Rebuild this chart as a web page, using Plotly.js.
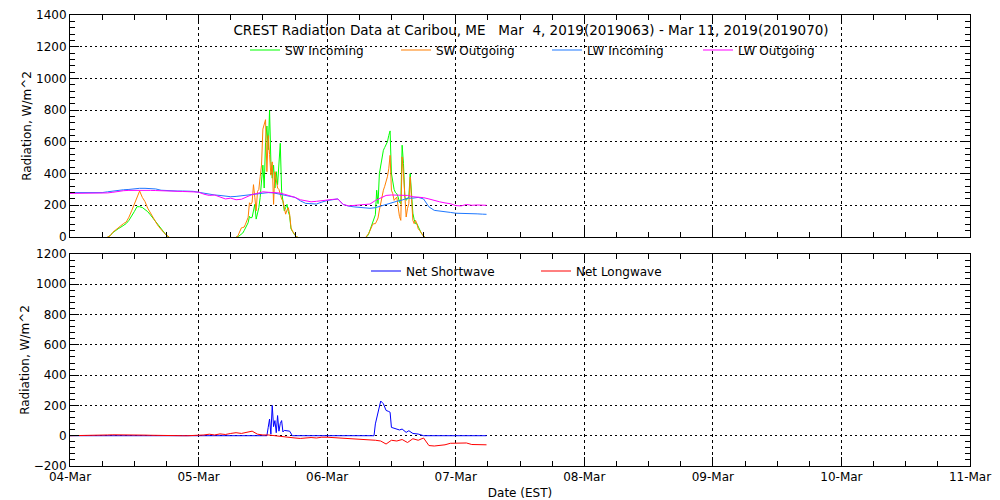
<!DOCTYPE html>
<html>
<head>
<meta charset="utf-8">
<script src="https://cdn.plot.ly/plotly-3.0.1.min.js"></script>
<style>html,body{margin:0;padding:0;background:#fff;}#chart{width:1000px;height:500px;}</style>
</head>
<body>
<div id="chart"></div>
<script>
// ---------- DATA (hours since 2019-03-04 00:00 EST) ----------
const startDate = '2019-03-04';
const endDate = '2019-03-11';

// SW values are zero at night (drawn under the axis line); night gaps are marked by null
const swHours = [
  7,7.5,8,8.5,9,9.5,10,10.5,11,11.5,12,12.5,13,13.5,14,14.5,15,15.5,16,16.5,17,17.5,18,18.5,
  24,
  31,31.25,31.5,31.75,32,32.25,32.5,32.75,33,33.25,33.5,33.75,34,34.25,34.5,34.75,35,35.25,35.5,35.75,
  36,36.25,36.5,36.75,37,37.25,37.5,37.75,38,38.25,38.5,38.75,39,39.25,39.5,39.75,40,40.25,40.5,40.75,
  41,41.25,41.5,41.75,42,42.25,42.5,
  48,
  55.25,55.5,55.75,56,56.25,56.5,56.75,57,57.25,57.5,57.75,58,58.25,58.5,58.75,59,59.25,59.5,59.75,
  60,60.25,60.5,60.75,61,61.25,61.5,61.75,62,62.25,62.5,62.75,63,63.25,63.5,63.75,64,64.25,64.5,64.75,
  65,65.25,65.5,65.75,66,66.25];
const swIncoming = [
  0,8,28,42,52,62,72,85,105,130,160,191,191,186,175,160,140,118,95,75,55,35,10,0,
  null,
  0,0,5,10,15,25,40,55,75,90,130,120,124,180,206,113,150,185,250,350,
  453,309,597,700,550,800,474,371,453,309,412,330,450,591,288,206,165,185,206,160,
  134,52,35,25,10,3,0,
  null,
  0,5,20,42,65,95,115,140,295,210,400,450,515,547,565,580,600,640,669,
  400,337,300,280,273,252,220,210,579,463,252,231,240,252,400,230,150,110,84,84,
  63,45,30,15,6,0];
const swOutgoing = [
  0,8,30,45,58,72,85,95,125,165,205,248,290,250,223,182,150,125,95,68,45,28,12,0,
  null,
  0,0,20,40,58,60,62,80,100,124,216,206,220,330,250,165,288,300,380,453,
  680,720,740,412,640,520,390,474,206,412,350,309,300,268,240,227,185,144,170,185,
  144,60,38,25,10,2,0,
  null,
  0,8,22,40,60,80,84,84,100,120,170,215,260,295,320,350,380,430,515,
  295,273,231,240,252,189,130,105,505,400,231,126,180,210,379,200,105,84,105,84,
  52,42,28,14,5,0];

const lwHours = [0,1,2,3,4,5,6,7,8,9,10,11,12,13,14,15,16,17,18,19,20,21,22,23,
  24,25,26,27,28,29,30,31,32,33,34,35,36,37,38,39,40,41,42,43,44,45,46,47,
  48,49,50,51,52,53,54,55,56,57,58,59,60,61,62,63,64,65,66,67,68,69,70,71,
  72,73,74,75,76,77,77.75];
const lwIncoming = [280,280,280,280,280,280,280,285,290,295,298,300,305,307,307,306,303,295,292,290,290,290,290,288,
  282,275,272,265,262,256,254,256,260,264,267,269,275,280,278,272,265,258,250,228,212,210,208,220,
  230,235,240,205,195,190,187,184,181,185,196,205,216,225,233,245,245,250,240,190,168,165,160,155,
  150,150,149,148,146,144,143];
const lwOutgoing = [275,275,275,275,275,275,275,278,282,288,292,294,295,295,295,294,293,291,290,289,288,287,286,285,
  283,270,262,265,250,240,245,235,238,254,268,275,285,282,280,278,270,262,250,235,228,222,225,230,
  235,237,240,205,196,198,200,205,208,230,244,262,265,265,265,262,254,252,248,240,230,222,215,210,
  198,196,205,200,202,200,200];

const netSwHours = [0,7,8,10,12,14,16,18,
  36.75,37,37.25,37.5,37.75,38,38.25,38.5,38.75,39,39.25,39.5,39.75,40,40.5,41,41.5,
  56.75,57,57.25,57.5,57.75,58,58.5,59,59.5,59.75,60,60.5,61,61.5,62,62.5,62.75,63.25,64,65,66,
  77.75];
const netShortwave = [0,0,2,3,5,4,3,0,
  0,55,110,10,200,60,100,20,133,30,80,100,25,35,33,30,0,
  0,78,122,144,190,229,211,167,160,155,55,50,44,38,44,30,22,33,15,11,0,
  0];
const netLongwave = [0,0,0,0,0,2,5,5,6,6,6,8,5,5,4,3,2,0,0,0,0,0,0,0,
  0,5,10,5,12,8,15,20,15,25,30,10,5,5,0,-5,-10,-12,-15,-18,-15,-12,-15,-10,
  -10,-12,-15,-20,-22,-20,-22,-25,-28,-30,-35,-55,-30,-35,-25,-45,-20,-30,-15,-65,-68,-65,-60,-50,
  -50,-52,-48,-58,-60,-60,-60];

const seriesNames = ['SW Incoming','SW Outgoing','LW Incoming','LW Outgoing','Net Shortwave','Net Longwave'];
const seriesColors = ['#00ff00','#ff7f00','#1e78ff','#ff00ff','#0000ff','#ff0000'];
const titleText = 'CREST Radiation Data at Caribou, ME\u00a0\u00a0\u00a0Mar\u00a0\u00a04, 2019(2019063) - Mar 11, 2019(2019070)';
const yTitle = 'Radiation, W/m^2';
const xTitle = 'Date (EST)';

// ---------- helpers ----------
const base = Date.UTC(2019, 2, 4);
function toDate(h) {
  return new Date(base + h * 3600000).toISOString().replace('T', ' ').slice(0, 19);
}
const FONT = 'DejaVu Sans, sans-serif';

function line(hours, vals, i, xa, ya, lg) {
  return {
    type: 'scatter', mode: 'lines', x: hours.map(toDate), y: vals,
    name: seriesNames[i], xaxis: xa, yaxis: ya, legend: lg, connectgaps: false,
    line: {color: seriesColors[i], width: 1}, hoverinfo: 'skip'
  };
}

const traces = [
  line(swHours, swIncoming, 0, 'x', 'y', 'legend'),
  line(swHours, swOutgoing, 1, 'x', 'y', 'legend'),
  line(lwHours, lwIncoming, 2, 'x', 'y', 'legend'),
  line(lwHours, lwOutgoing, 3, 'x', 'y', 'legend'),
  line(netSwHours, netShortwave, 4, 'x2', 'y2', 'legend2'),
  line(lwHours, netLongwave, 5, 'x2', 'y2', 'legend2')
];

const common = {
  showline: true, linecolor: '#000', linewidth: 1, mirror: 'allticks',
  ticks: 'inside', ticklen: 9, tickcolor: '#000', tickwidth: 1,
  showgrid: true, gridcolor: '#000', gridwidth: 1,
  zeroline: false, automargin: false, fixedrange: true,
  tickfont: {family: FONT, size: 12, color: '#000'}
};
function xax(extra) {
  return Object.assign({}, common, {
    type: 'date', range: [startDate, endDate], domain: [0.07, 0.97],
    tick0: startDate, dtick: 86400000, tickformat: '%d-%b', griddash: '3px,3px',
    minor: {ticks: 'inside', ticklen: 5, tickcolor: '#000', dtick: 21600000, tick0: startDate, showgrid: false}
  }, extra);
}
function yax(extra) {
  return Object.assign({}, common, {
    dtick: 200, griddash: '2px,3px',
    minor: {ticks: 'inside', ticklen: 5, tickcolor: '#000', dtick: 40, showgrid: false},
    title: {text: yTitle, font: {family: FONT, size: 12, color: '#000'}, standoff: 1}
  }, extra);
}

const legendCommon = {
  orientation: 'h', xanchor: 'left', yanchor: 'middle', bgcolor: 'rgba(0,0,0,0)',
  font: {family: FONT, size: 12, color: '#000'}, itemwidth: 30,
  entrywidthmode: 'pixels', itemclick: false, itemdoubleclick: false
};

const layout = {
  width: 1000, height: 500,
  margin: {l: 0, r: 0, t: 0, b: 0},
  paper_bgcolor: '#fff', plot_bgcolor: '#fff',
  showlegend: true,
  title: {text: titleText, font: {family: FONT, size: 13.5, color: '#000'},
          x: 0.531, xanchor: 'center', y: 0.94, yanchor: 'middle', xref: 'container', yref: 'container'},
  xaxis: xax({anchor: 'y', showticklabels: false}),
  yaxis: yax({anchor: 'x', domain: [0.526, 0.97], range: [0, 1400]}),
  xaxis2: xax({anchor: 'y2', title: {text: xTitle, font: {family: FONT, size: 12, color: '#000'}, standoff: 6}}),
  yaxis2: yax({anchor: 'x2', domain: [0.068, 0.492], range: [-200, 1200]}),
  legend: Object.assign({}, legendCommon, {x: 0.245, y: 0.9, entrywidth: 106}),
  legend2: Object.assign({}, legendCommon, {x: 0.366, y: 0.458, entrywidth: 125})
};

Plotly.newPlot('chart', traces, layout, {staticPlot: true, displayModeBar: false});
</script>
</body>
</html>
